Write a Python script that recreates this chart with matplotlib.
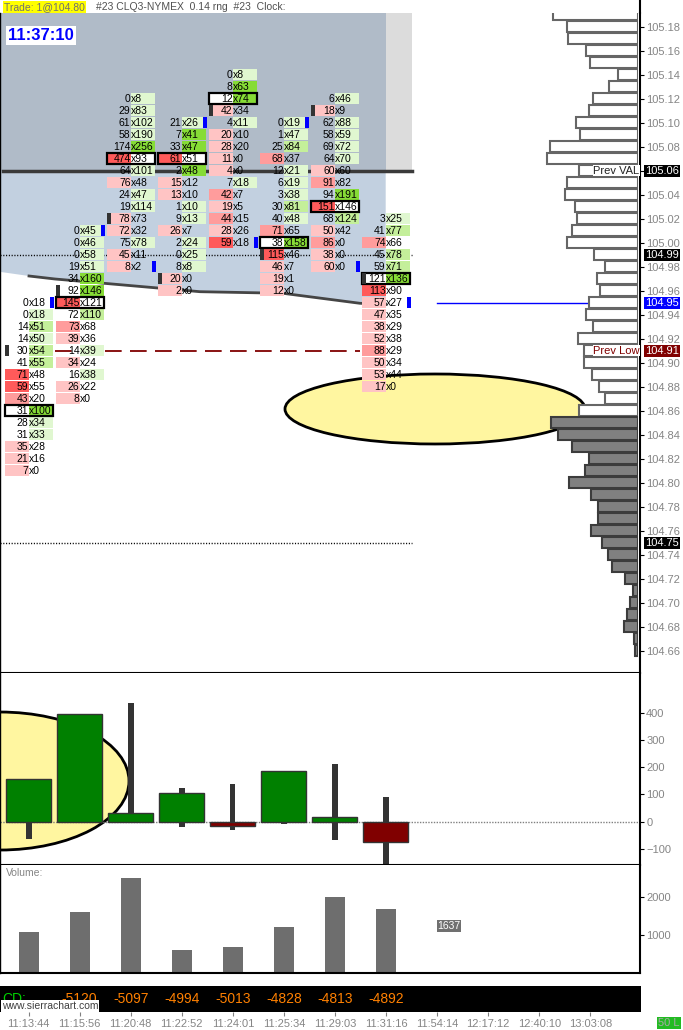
import numpy as np
import matplotlib.pyplot as plt
from matplotlib.patches import Rectangle, Ellipse, Polygon

plt.rcParams['font.family'] = ['Liberation Sans', 'DejaVu Sans']
plt.rcParams['lines.scale_dashes'] = False

# ---- data ----
times = ['11:13:44', '11:15:56', '11:20:48', '11:22:52', '11:24:01', '11:25:34',
         '11:29:03', '11:31:16', '11:54:14', '12:17:12', '12:40:10', '13:03:08']

# footprint bars: 15 price levels each, listed from the bar high downwards
bar_high = [104.95, 105.01, 105.12, 105.10, 105.14, 105.10, 105.12, 105.02]
bar_open = [104.91, 104.96, 105.02, 104.97, 105.11, 104.99, 105.11, 104.97]
bar_close = [104.95, 105.01, 104.98, 105.10, 105.00, 105.10, 104.98, 104.95]

bids = [
    [0, 0, 14, 14, 30, 41, 71, 59, 43, 31, 28, 31, 35, 21, 7],
    [0, 0, 0, 19, 34, 92, 145, 72, 73, 39, 14, 34, 16, 26, 8],
    [0, 29, 61, 58, 174, 474, 64, 76, 24, 19, 78, 72, 75, 45, 8],
    [21, 7, 33, 61, 2, 15, 13, 1, 9, 26, 2, 0, 8, 20, 2],
    [0, 8, 12, 42, 4, 20, 28, 11, 4, 7, 42, 19, 44, 28, 59],
    [0, 1, 25, 68, 12, 6, 3, 30, 40, 71, 38, 115, 46, 19, 12],
    [6, 18, 62, 58, 69, 64, 60, 91, 94, 151, 68, 50, 86, 38, 60],
    [3, 41, 74, 45, 59, 121, 113, 57, 47, 38, 52, 88, 50, 53, 17],
]
asks = [
    [18, 18, 51, 50, 54, 55, 48, 55, 20, 100, 34, 33, 28, 16, 0],
    [45, 46, 58, 51, 160, 146, 121, 110, 68, 36, 39, 24, 38, 22, 0],
    [8, 83, 102, 190, 256, 93, 101, 48, 47, 114, 73, 32, 78, 11, 2],
    [26, 41, 47, 51, 48, 12, 10, 10, 13, 7, 24, 25, 8, 0, 0],
    [8, 63, 74, 34, 11, 10, 20, 0, 0, 18, 7, 5, 15, 26, 18],
    [19, 47, 84, 37, 21, 19, 38, 81, 48, 65, 158, 46, 7, 1, 0],
    [46, 9, 88, 59, 72, 70, 60, 82, 191, 146, 124, 42, 0, 0, 0],
    [25, 77, 66, 78, 71, 136, 90, 27, 35, 29, 38, 29, 34, 44, 0],
]
# imbalance shading: + green (ask side), - red (bid side), 1..3 strength
shades = [
    [0, 1, 2, 1, 2, 2, -3, -3, -2, 3, 1, 1, -1, -1, -1],
    [1, 1, 1, 1, 3, 3, -3, 2, -2, -1, 1, -1, 1, -1, -1],
    [1, 1, 1, 1, 3, -3, 1, -1, 1, 1, -1, -1, 1, -1, -1],
    [1, 3, 3, -3, 3, -1, -1, 1, 1, -1, 1, 1, 1, -1, -1],
    [1, 3, 3, -1, 1, -1, -1, -1, -1, 1, -2, -1, -2, -1, -3],
    [1, 1, 2, -2, 1, 1, 1, 2, 1, -2, 3, -3, -1, -1, -1],
    [1, -1, 1, 1, 1, 1, -1, -2, 3, -3, 2, -1, -2, -1, -1],
    [1, 2, -2, 2, 2, 3, -3, -1, -1, -1, -1, -2, -1, -1, -1],
]

delta_close = [155, 393, 31, 104, -16, 185, 17, -76]
delta_high = [155, 393, 435, 123, 138, 185, 211, 90]
delta_low = [-63, 0, 0, -18, -30, -7, -66, -175]
volume = [1060, 1590, 2480, 590, 670, 1200, 2000, 1680]
cum_delta = [-5120, -5097, -4994, -5013, -4828, -4813, -4892]  # bars 2..8

# volume profile, from 105.19 down to 104.66
profile_top = 105.19
profile_vol = [85, 71, 70, 52, 48, 20, 29, 45, 49, 62, 58, 88, 91, 59, 71, 73, 63, 61,
               66, 71, 44, 33, 41, 38, 49, 52, 45, 60, 54, 54, 46, 39, 33, 59, 87, 80,
               66, 49, 53, 69, 47, 40, 40, 47, 36, 30, 26, 13, 5, 8, 11, 14, 4, 3]
profile_split = 104.855  # levels below are drawn gray

# ---- layout helpers (pixel positions of the 683x1030 picture) ----
W, H = 683, 1030
X0, DX = 28.5, 51.0


def px(x):
    return (x - X0) / DX


def py(y):
    return 105.18 - (y - 26.7) / 1200.0


def fax(x0, y0, x1, y1):
    return fig.add_axes([x0 / W, 1 - y1 / H, (x1 - x0) / W, (y1 - y0) / H])


fig = plt.figure(figsize=(W / 100, H / 100), dpi=100)
fig.patch.set_facecolor('white')

reds = {1: '#ffc4c4', 2: '#ff9c9c', 3: '#ff5a5a'}
greens = {1: '#e0f7d0', 2: '#c4ef9a', 3: '#86dc36'}
gray_txt = '#858585'
XL = (px(0), px(640))


def style_right(a, lw=1.5):
    for s in ['top']:
        a.spines[s].set_visible(False)
    for s in ['right', 'bottom', 'left']:
        a.spines[s].set_linewidth(lw)
    a.spines['left'].set_linewidth(1)
    a.yaxis.tick_right()
    a.tick_params(axis='y', direction='out', length=3, pad=1.5, labelsize=8,
                  labelcolor=gray_txt, color='black')
    a.set_xticks([])
    a.set_xlim(*XL)


# ---- main price panel ----
ax = fax(0, 13, 640, 673)
ax.set_ylim(py(673), py(13))
style_right(ax)
ticks = np.round(np.arange(104.66, 105.19, 0.02), 2)
ax.set_yticks(ticks)
ax.set_yticklabels([f'{t:.2f}' for t in ticks])

top = py(13)
ax.add_patch(Rectangle((px(1), 105.06), px(385.7) - px(1), top - 105.06,
                       fc='#b0bbc8', ec='none', zorder=0))
ax.add_patch(Rectangle((px(385.7), 105.06), px(411.7) - px(385.7), top - 105.06,
                       fc='#dcdcdc', ec='none', zorder=0))
edge = [(29, 276), (55, 279), (200, 291.7), (283, 293.3), (360, 303.3), (385.7, 304)]
poly = [(px(1), 105.06), (px(385.7), 105.06)] + [(px(x), py(y)) for x, y in edge[::-1]] \
    + [(px(1), py(272))]
ax.add_patch(Polygon(poly, closed=True, fc='#c2d0e0', ec='none', zorder=0))
ax.plot([px(x) for x, _ in edge], [py(y) for _, y in edge], color='#454545', lw=2,
        zorder=1)
ax.plot([px(3), px(412)], [105.06, 105.06], color='#3a3a3a', lw=2.5, zorder=1)

ax.add_patch(Ellipse((px(435), py(409)), 300 / DX, 70 / 1200.0, fc='#fff6a0',
                     ec='black', lw=2, zorder=1))

dot = dict(color='black', lw=1, dashes=(0.8, 1.2), zorder=1)
ax.plot([px(0), px(412)], [104.99, 104.99], **dot)
ax.plot([px(0), px(412)], [104.75, 104.75], **dot)
ax.plot([px(55), px(360)], [104.91, 104.91], color='#800000', lw=1.3,
        dashes=(12, 6), zorder=1)
ax.plot([px(437), px(592)], [104.95, 104.95], color='#0000ff', lw=1, zorder=1)

half = 24 / DX
ch = 10.5 / 1200.0
for i in range(8):
    tot = [b + a for b, a in zip(bids[i], asks[i])]
    poc = int(np.argmax(tot))
    for k in range(15):
        p = round(bar_high[i] - 0.01 * k, 2)
        s = shades[i][k]
        if k == poc:
            ax.add_patch(Rectangle((i - half, p - ch / 2), 2 * half, ch, fc='white',
                                   ec='none', zorder=2))
        if s < 0:
            ax.add_patch(Rectangle((i - half, p - ch / 2), half, ch, fc=reds[-s],
                                   ec='none', zorder=2))
        elif s > 0:
            ax.add_patch(Rectangle((i, p - ch / 2), half, ch, fc=greens[s],
                                   ec='none', zorder=2))
        if k == poc:
            ax.add_patch(Rectangle((i - half, p - ch / 2), 2 * half, ch, fc='none',
                                   ec='black', lw=1.6, zorder=3))
        ax.text(i, p, str(bids[i][k]), ha='right', va='center', fontsize=7.5,
                color='black', zorder=4)
        ax.text(i, p, 'x' + str(asks[i][k]), ha='left', va='center', fontsize=7.5,
                color='black', zorder=4)
    ax.add_patch(Rectangle((i - half, bar_open[i] - ch / 2), 4 / DX, ch, fc='#333333',
                           ec='none', zorder=5))
    ax.add_patch(Rectangle((i + 21 / DX, bar_close[i] - ch / 2), 4 / DX, ch,
                           fc='#0000ff', ec='none', zorder=5))

ax.text(px(8), py(36), '11:37:10', color='#0000ff', fontsize=12, fontweight='bold',
        va='center', ha='left', zorder=6,
        bbox=dict(fc='white', ec='none', pad=1.5))

# volume profile on the right
axp = fax(438, 13, 638.3, 673)
axp.patch.set_visible(False)
axp.set_xlim(200.3, 0)
axp.set_ylim(py(673), py(13))
axp.axis('off')
pp = np.round(profile_top - 0.01 * np.arange(len(profile_vol)), 2)
low = pp < profile_split
axp.barh(pp[~low], np.array(profile_vol)[~low], height=0.0092, fc='white',
         ec='#666666', lw=1.5)
axp.barh(pp[low], np.array(profile_vol)[low], height=0.0092, fc='#808080',
         ec='#3c3c3c', lw=1.5)
axp.text(45, 105.06, 'Prev VAL', ha='left', va='center', fontsize=8, color='#222222',
         bbox=dict(fc='white', ec='none', pad=0.5))
axp.text(45, 104.91, 'Prev Low', ha='left', va='center', fontsize=8, color='#800000',
         bbox=dict(fc='white', ec='none', pad=0.5))

for val, bg in [(105.06, 'black'), (104.99, 'black'), (104.95, '#0000ff'),
                (104.91, '#800000'), (104.75, 'black')]:
    ax.text(px(645), val, f'{val:.2f}', color='white', fontsize=8, ha='left',
            va='center', bbox=dict(fc=bg, ec='none', pad=0.8), zorder=6)

# ---- delta panel ----
axd = fax(0, 673, 640, 865)
style_right(axd)
axd.set_ylim(-158.6, 544.7)
axd.set_yticks([-100, 0, 100, 200, 300, 400])
axd.add_patch(Ellipse((px(0), 149), 258 / DX, 138 / 0.273, fc='#fff6a0', ec='black',
                      lw=2, zorder=1))
axd.axhline(0, color='#808080', lw=1, dashes=(1, 1), zorder=1)
xs = np.arange(8)
axd.bar(xs, np.array(delta_high) - np.array(delta_low), bottom=delta_low,
        width=6 / DX, color='#333333', zorder=2)
axd.bar(xs, delta_close, width=45 / DX,
        color=['#008000' if v >= 0 else '#800000' for v in delta_close],
        edgecolor='#333333', lw=1, zorder=3)

# ---- volume panel ----
axv = fax(0, 865, 640, 973)
style_right(axv)
axv.set_ylim(-8, 2834)
axv.set_yticks([1000, 2000])
axv.bar(xs, volume, width=20 / DX, color='#6e6e6e')
axv.text(0.01, 0.93, 'Volume:', transform=axv.transAxes, fontsize=7.5,
         color=gray_txt, va='center')
axv.text(px(449), 1226, '1637', ha='center', va='center', fontsize=7.5, color='white',
         bbox=dict(fc='#707070', ec='none', pad=0.6))

# ---- cumulative delta strip + time axis ----
axc = fax(0, 986, 641, 1012)
axc.set_facecolor('black')
for s in axc.spines.values():
    s.set_visible(False)
axc.set_xlim(*XL)
axc.set_ylim(0, 1)
axc.set_yticks([])
axc.set_xticks(range(len(times)))
axc.set_xticklabels(times)
axc.tick_params(axis='x', length=3, color='#808080', labelcolor=gray_txt, labelsize=8,
                pad=2)
axc.text(px(2), 0.5, 'CD:', color='#00d000', fontsize=10, va='center', ha='left')
for i, v in enumerate(cum_delta):
    axc.text(i + 1, 0.5, str(v), color='#ff8000', fontsize=10, va='center',
             ha='center')
axc.text(px(2), 0.24, 'www.sierrachart.com', color='#404040', fontsize=7.5,
         va='center', ha='left', bbox=dict(fc='white', ec='none', pad=0.6))

# ---- header ----
fig.text(4 / W, 1 - 7 / H, 'Trade: 1@104.80', fontsize=7.5, color='#707070',
         va='center', bbox=dict(fc='#ffff00', ec='none', pad=0.8))
fig.text(96 / W, 1 - 7 / H, '#23 CLQ3-NYMEX  0.14 rng  #23  Clock:', fontsize=7.5,
         color='#505050', va='center')
fig.add_artist(plt.Line2D([640 / W, 640 / W], [1 - 13 / H, 1], color='black', lw=1.5))
fig.text(669 / W, 1 - 1023 / H, '50 L', fontsize=8, color='#a8a8a8', ha='center',
         va='center', bbox=dict(fc='#22bb22', ec='none', pad=1))

fig.savefig('out.png', dpi=100)
